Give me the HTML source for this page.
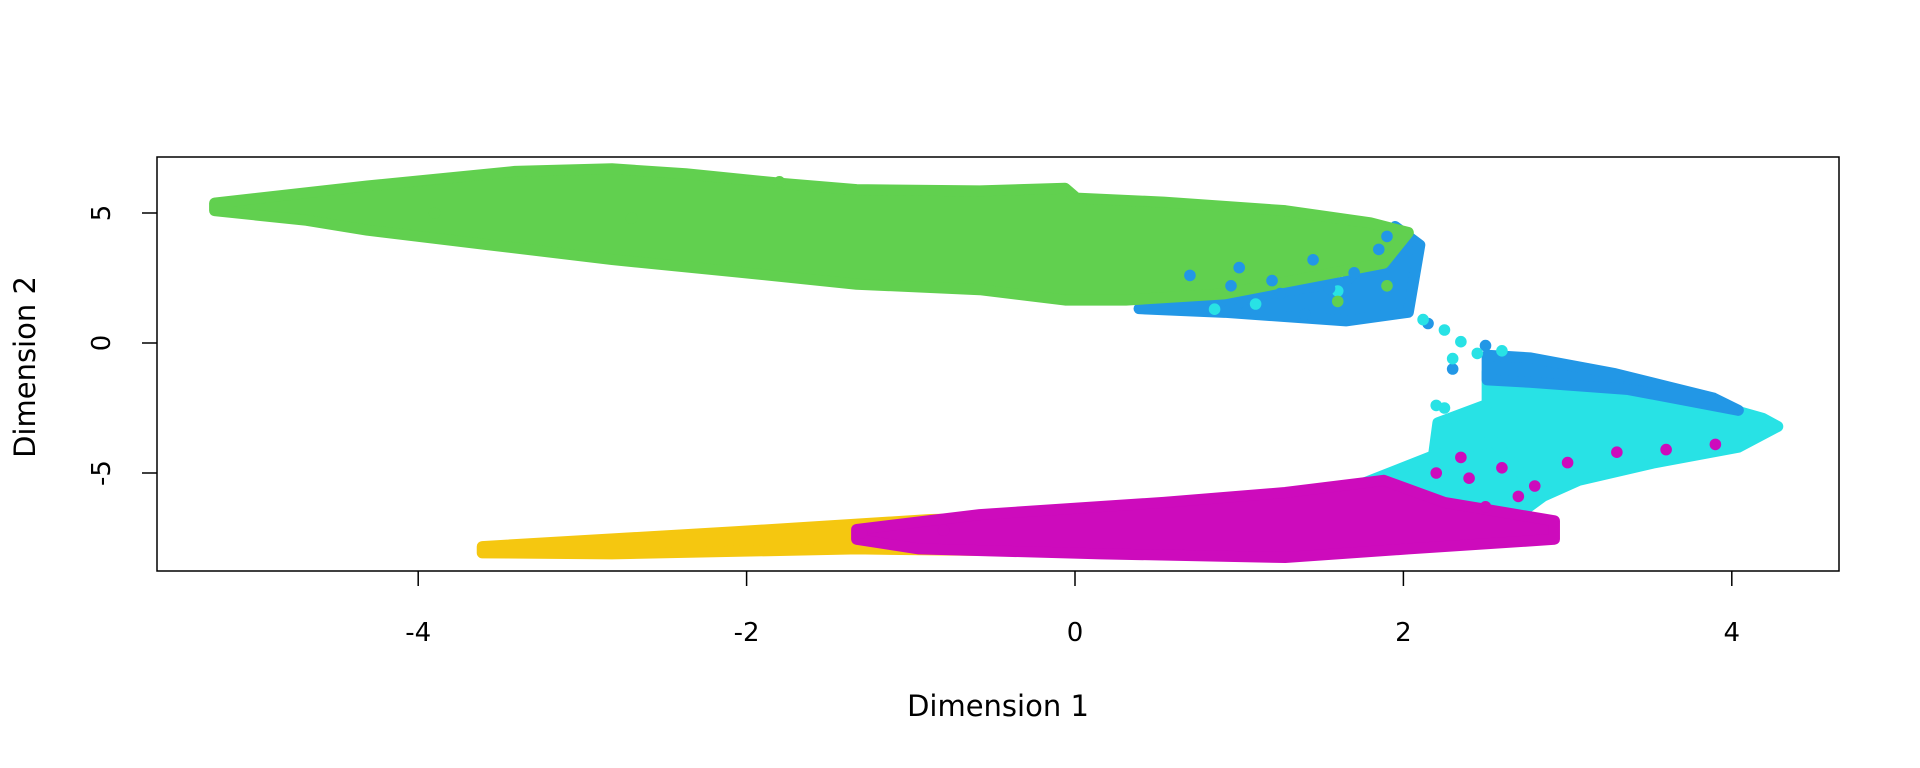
<!DOCTYPE html>
<html><head><meta charset="utf-8"><style>
html,body{margin:0;padding:0;background:#fff;}
svg{display:block;font-family:"DejaVu Sans","Liberation Sans",sans-serif;}
</style></head><body>
<svg id="chart" width="1920" height="768" viewBox="0 0 1920 768" xmlns="http://www.w3.org/2000/svg">
<rect x="0" y="0" width="1920" height="768" fill="#fff"/>
<g id="marks"></g>
<rect x="157" y="157" width="1682" height="414" fill="none" stroke="#000" stroke-width="1.5"/>
<g id="axes"></g>
<text x="998" y="716" font-size="29" text-anchor="middle">Dimension 1</text>
<text transform="translate(35,367) rotate(-90)" font-size="29" text-anchor="middle">Dimension 2</text>
</svg>
<script>
const xTicks = [-4, -2, 0, 2, 4];
const yTicks = [-5, 0, 5];
const seriesNames = ["blue","cyan","yellow","green","magenta"];
const seriesColors = ["#2297e6","#28e2e5","#f5c710","#61d04f","#cd0bbc"];
// dense cluster envelopes (data units)
const blueHullX = [0.39,0.91,1.65,1.95,2.10,2.03,1.65,0.91];
const blueHullY = [1.32,1.65,2.36,4.48,3.77,1.18,0.85,1.18];
const blueBandX = [2.51,2.77,3.29,3.89,4.04,3.37,2.77,2.51];
const blueBandY = [-0.47,-0.57,-1.18,-2.12,-2.59,-1.79,-1.51,-1.42];
const cyanHullX = [2.51,2.70,3.14,3.74,4.19,4.28,4.04,3.52,3.07,2.85,2.70,2.55,2.40,2.18,2.21,2.51];
const cyanHullY = [-1.10,-1.00,-1.30,-2.10,-2.90,-3.21,-4.01,-4.62,-5.28,-5.90,-6.60,-6.37,-5.66,-4.48,-3.07,-2.36];
const cyanLowX = [1.06,1.65,2.18,2.55,2.77,2.70,2.03];
const cyanLowY = [-6.37,-5.66,-4.34,-3.77,-5.42,-6.60,-6.84];
const yellowHullX = [-3.61,-2.07,-0.88,-0.21,-0.06,-1.33,-2.82,-3.61];
const yellowHullY = [-7.83,-7.26,-6.79,-6.70,-8.02,-7.92,-8.11,-8.07];
const greenHullX = [-5.24,-4.31,-3.41,-2.82,-2.37,-1.77,-1.33,-0.58,-0.06,0.01,0.54,1.28,1.80,2.03,1.88,0.91,0.31,-0.06,-0.58,-1.33,-2.07,-2.82,-3.56,-4.31,-4.68,-5.24];
const greenHullY = [5.38,6.04,6.60,6.70,6.51,6.13,5.90,5.85,5.95,5.57,5.42,5.09,4.62,4.25,3.07,1.89,1.65,1.65,2.05,2.26,2.74,3.21,3.77,4.34,4.72,5.09];
const magentaHullX = [-1.33,-0.58,0.54,1.28,1.88,2.25,2.92,2.92,2.03,1.28,0.16,-0.95,-1.33];
const magentaHullY = [-7.17,-6.60,-6.13,-5.75,-5.28,-6.13,-6.84,-7.55,-7.92,-8.25,-8.11,-7.92,-7.55];
// scattered points
const bluePtsX = [2.15,2.50,2.30,1.05,1.40,0.55];
const bluePtsY = [0.75,-0.10,-1.00,1.25,1.10,1.50];
const cyanPtsX = [2.12,2.25,2.35,2.45,2.30,2.60,2.20,2.25,1.10,1.60,0.85];
const cyanPtsY = [0.90,0.50,0.05,-0.40,-0.60,-0.30,-2.40,-2.50,1.50,2.00,1.30];
const greenPtsX = [-1.80,-3.90,-2.70,1.60,1.90];
const greenPtsY = [6.20,5.00,4.80,1.60,2.20];
const blueOverPtsX = [0.70,1.00,1.20,1.45,1.70,1.85,1.90,1.55,1.25,0.95];
const blueOverPtsY = [2.60,2.90,2.40,3.20,2.70,3.60,4.10,2.10,1.90,2.20];
const magentaPtsX = [2.20,2.40,2.60,2.80,3.00,3.30,3.60,3.90,2.35,2.70,2.50,-1.30,-0.80];
const magentaPtsY = [-5.00,-5.20,-4.80,-5.50,-4.60,-4.20,-4.10,-3.90,-4.40,-5.90,-6.30,-7.30,-7.20];

const X0=1075, XS=164.2, Y0=343, YS=26.0;
const sx = v => X0 + v*XS;
const sy = v => Y0 - v*YS;
const NS = "http://www.w3.org/2000/svg";
const marks = document.getElementById('marks');
const axes = document.getElementById('axes');

function hull(xs, ys, color, name){
  const p = document.createElementNS(NS,'polygon');
  p.setAttribute('points', xs.map((x,i)=>sx(x)+','+sy(ys[i])).join(' '));
  p.setAttribute('fill', color);
  p.setAttribute('stroke', color);
  p.setAttribute('stroke-width', '11');
  p.setAttribute('stroke-linejoin', 'round');
  
  
  marks.appendChild(p);
}
function pts(xs, ys, color, name){
  xs.forEach((x,i)=>{
    const c = document.createElementNS(NS,'circle');
    c.setAttribute('cx', sx(x));
    c.setAttribute('cy', sy(ys[i]));
    c.setAttribute('r', 5.8);
    c.setAttribute('fill', color);
    
    
    marks.appendChild(c);
  });
}
hull(blueHullX, blueHullY, seriesColors[0], 'blue-cluster-upper');
hull(cyanHullX, cyanHullY, seriesColors[1], 'cyan-cluster-right');
hull(blueBandX, blueBandY, seriesColors[0], 'blue-cluster-right');
hull(cyanLowX, cyanLowY, seriesColors[1], 'cyan-cluster-lower');
pts(bluePtsX, bluePtsY, seriesColors[0], 'blue-point');
pts(cyanPtsX, cyanPtsY, seriesColors[1], 'cyan-point');
hull(yellowHullX, yellowHullY, seriesColors[2], 'yellow-cluster');
hull(greenHullX, greenHullY, seriesColors[3], 'green-cluster');
pts(greenPtsX, greenPtsY, seriesColors[3], 'green-point');
pts(blueOverPtsX, blueOverPtsY, seriesColors[0], 'blue-point');
hull(magentaHullX, magentaHullY, seriesColors[4], 'magenta-cluster');
pts(magentaPtsX, magentaPtsY, seriesColors[4], 'magenta-point');

xTicks.forEach(t=>{
  const l = document.createElementNS(NS,'line');
  l.setAttribute('x1', sx(t)); l.setAttribute('x2', sx(t));
  l.setAttribute('y1', 571); l.setAttribute('y2', 586);
  l.setAttribute('stroke','#000'); l.setAttribute('stroke-width','1.5');
  
  
  axes.appendChild(l);
  const tx = document.createElementNS(NS,'text');
  tx.setAttribute('x', sx(t)); tx.setAttribute('y', 641);
  tx.setAttribute('font-size','26'); tx.setAttribute('text-anchor','middle');
  tx.textContent = t;
  
  
  axes.appendChild(tx);
});
yTicks.forEach(t=>{
  const l = document.createElementNS(NS,'line');
  l.setAttribute('x1', 142); l.setAttribute('x2', 157);
  l.setAttribute('y1', sy(t)); l.setAttribute('y2', sy(t));
  l.setAttribute('stroke','#000'); l.setAttribute('stroke-width','1.5');
  
  
  axes.appendChild(l);
  const tx = document.createElementNS(NS,'text');
  tx.setAttribute('transform', 'translate(110,'+sy(t)+') rotate(-90)');
  tx.setAttribute('font-size','26'); tx.setAttribute('text-anchor','middle');
  tx.textContent = t;
  
  
  axes.appendChild(tx);
});
</script>
</body></html>
